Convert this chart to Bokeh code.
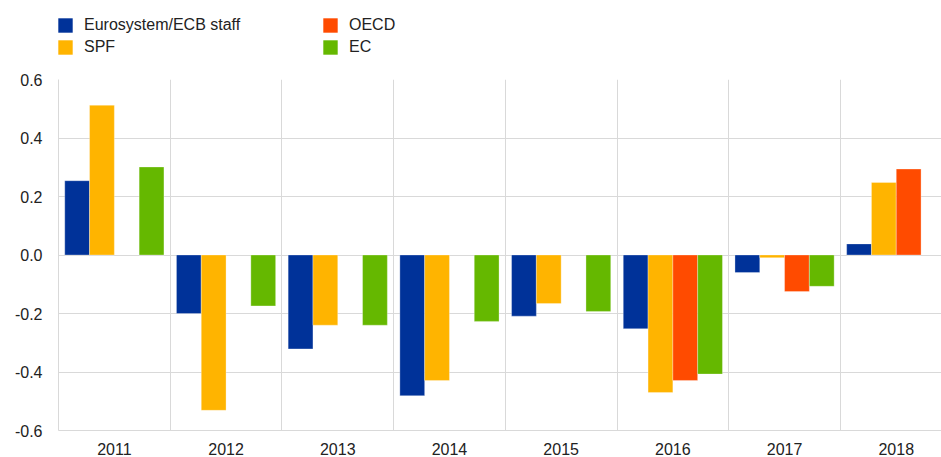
import numpy as np
from bokeh.plotting import figure
from bokeh.layouts import column
from bokeh.models import (ColumnDataSource, Range1d, FixedTicker, Legend, LegendItem,
                          CustomJSTickFormatter)
from bokeh.embed import file_html
from bokeh.resources import INLINE

years = ["2011", "2012", "2013", "2014", "2015", "2016", "2017", "2018"]
ecb = [0.254, -0.200, -0.321, -0.481, -0.209, -0.252, -0.060, 0.038]
spf = [0.512, -0.531, -0.240, -0.429, -0.166, -0.470, -0.009, 0.248]
oecd = [None, None, None, None, None, -0.429, -0.125, 0.294]
ec = [0.301, -0.174, -0.240, -0.227, -0.193, -0.407, -0.107, None]

series_names = ["Eurosystem/ECB staff", "SPF", "OECD", "EC"]
series_values = [ecb, spf, oecd, ec]
colors = ["#003299", "#ffb400", "#ff4b00", "#65b800"]
y_ticks = [-0.6, -0.4, -0.2, 0.0, 0.2, 0.4, 0.6]

FONT = "Liberation Sans"
TXT = "#222222"
GRID = "#d9d9d9"
W = 941

# ---- legend strip ----
lf = figure(width=W, height=67, output_backend="svg", toolbar_location=None,
            x_range=Range1d(0, 1), y_range=Range1d(0, 1),
            x_axis_location=None, y_axis_location=None, min_border=0)
lf.outline_line_color = None
lf.grid.visible = False
leg_renderers = []
for col in colors:
    # zero-height swatch renderers: only their legend entries are visible
    leg_renderers.append(lf.vbar(x=[0.5], top=[0], bottom=0, width=0,
                                 fill_color=col, line_color=None))
legend = Legend(items=[LegendItem(label=n, renderers=[r]) for n, r in zip(series_names, leg_renderers)],
                orientation="vertical", nrows=2,
                location=(-2, 10), padding=0, margin=0, spacing=2,
                glyph_width=18, glyph_height=18, label_standoff=10,
                label_width=235, label_height=20,
                label_text_font=FONT, label_text_font_size="16px", label_text_color=TXT,
                border_line_color=None, background_fill_alpha=0)
lf.add_layout(legend, "center")

# ---- main chart ----
p = figure(width=W, height=390, output_backend="svg", toolbar_location=None,
           x_range=Range1d(0, 7.905), y_range=Range1d(-0.6, 0.6),
           min_border_left=58, min_border_right=0, min_border_top=12, min_border_bottom=26)
p.outline_line_color = None

bar_w = 0.222
centers = np.arange(len(years)) + 0.5
for j, (name, vals, col) in enumerate(zip(series_names, series_values, colors)):
    xs, tops = [], []
    for i, v in enumerate(vals):
        if v is not None:
            xs.append(centers[i] + (j - 1.5) * bar_w)
            tops.append(v)
    src = ColumnDataSource(dict(x=xs, top=tops))
    p.vbar(x="x", top="top", bottom=0, width=bar_w, source=src,
           fill_color=col, line_color="white", line_alpha=0.3, line_width=1)

p.xaxis.ticker = FixedTicker(ticks=list(centers))
p.xaxis.major_label_overrides = {float(c): y for c, y in zip(centers, years)}
p.xaxis.major_tick_line_color = None
p.xaxis.minor_tick_line_color = None
p.xaxis.axis_line_color = GRID
p.xaxis.major_label_text_font = FONT
p.xaxis.major_label_text_font_size = "16px"
p.xaxis.major_label_text_color = TXT
p.xaxis.major_label_standoff = 6

p.yaxis.ticker = FixedTicker(ticks=y_ticks)
p.yaxis.formatter = CustomJSTickFormatter(code="return tick.toFixed(1);")
p.yaxis.major_tick_line_color = None
p.yaxis.minor_tick_line_color = None
p.yaxis.axis_line_color = GRID
p.yaxis.major_label_text_font = FONT
p.yaxis.major_label_text_font_size = "16px"
p.yaxis.major_label_text_color = TXT
p.yaxis.major_label_standoff = 10

p.xgrid.ticker = FixedTicker(ticks=list(range(1, len(years))))
p.xgrid.grid_line_color = GRID
p.ygrid.ticker = FixedTicker(ticks=y_ticks)
p.ygrid.grid_line_color = GRID

layout = column(lf, p, spacing=0)
open("out.html", "w").write(file_html(layout, INLINE))
